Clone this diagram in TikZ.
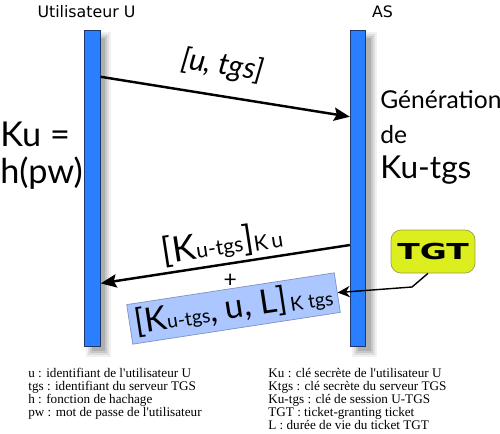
\documentclass[tikz,border=0pt]{standalone}
\usepackage{fontspec}
\setmainfont{Lato}
\newfontfamily\headfont{DejaVu Sans}
\newfontfamily\legendfont{Liberation Serif}
\definecolor{BarBlue}{RGB}{42,127,255}
\definecolor{BarEdge}{RGB}{30,55,110}
\definecolor{BoxBlue}{RGB}{172,198,255}
\definecolor{BoxEdge}{RGB}{125,145,195}
\definecolor{TgtYellow}{RGB}{221,238,30}
\definecolor{TgtEdge}{RGB}{150,160,70}
\definecolor{ShadeA}{RGB}{240,240,240}
\definecolor{ShadeB}{RGB}{222,222,222}
\definecolor{ShadeC}{RGB}{200,200,200}
\definecolor{ShadeD}{RGB}{175,175,175}
\usetikzlibrary{arrows.meta,calc}

\begin{document}
\begin{tikzpicture}[x=0.02cm,y=-0.02cm,
    lifeline/.style={draw=BarEdge,fill=BarBlue,line width=0.5pt,inner sep=0,
      minimum width=3.1mm,minimum height=63.2mm},
    msg/.style={line width=1.4pt,-{Stealth[length=9pt,width=7.5pt,inset=1.5pt]}},
    legend/.style={align=left,inner sep=0,anchor=north west,font=\legendfont\fontsize{7.5}{7.4}\selectfont}]
  \useasboundingbox (0,0) rectangle (500,433);

  % actors
  \node[font=\headfont\fontsize{9}{9}\selectfont] (uname) at (86.5,12) {Utilisateur U};
  \node[font=\headfont\fontsize{9}{9}\selectfont] (asname) at (382.5,12) {AS};
  % soft shadows of the lifelines
  \fill[ShadeA] (86,32) rectangle (111,357);
  \fill[ShadeB] (88,34) rectangle (109,355);
  \fill[ShadeC] (90,36) rectangle (107,353);
  \fill[ShadeD] (92,38) rectangle (105,351);
  \fill[ShadeA] (351.5,32) rectangle (376.5,357);
  \fill[ShadeB] (353.5,34) rectangle (374.5,355);
  \fill[ShadeC] (355.5,36) rectangle (372.5,353);
  \fill[ShadeD] (357.5,38) rectangle (370.5,351);
  \node[lifeline] (user) at (92.5,188) {};
  \node[lifeline] (as) at (358,188) {};

  % side notes
  \node[anchor=base west,inner sep=0,font=\fontsize{19.5}{19.5}\selectfont] (ku) at (0,146) {Ku =};
  \node[anchor=base west,inner sep=0,font=\fontsize{19.5}{19.5}\selectfont] (hpw) at (0,183) {h(pw)};
  \node[anchor=base west,inner sep=0,font=\fontsize{14}{14}\selectfont] (gen) at (380,108) {Génération};
  \node[anchor=base west,inner sep=0,font=\fontsize{14}{14}\selectfont] (de) at (380,143) {de};
  \node[anchor=base west,inner sep=0,font=\fontsize{18}{18}\selectfont] (kutgs) at (380,178) {Ku-tgs};

  % messages
  \draw[msg] ($(user.north east)!0.149!(user.south east)$) -- ($(as.north west)!0.275!(as.south west)$)
    node[pos=0.47,above=5pt,sloped,font=\itshape\fontsize{17}{17}\selectfont] {[u, tgs]};
  \draw[msg] ($(as.north west)!0.680!(as.south west)$) -- ($(user.north east)!0.801!(user.south east)$)
    node[midway,above=1pt,sloped,inner sep=1pt] {{\fontsize{20}{20}\selectfont[K}{\fontsize{12}{12}\selectfont u-tgs}{\fontsize{20}{20}\selectfont]}\raisebox{-1pt}{\fontsize{12}{12}\selectfont K\,u}}
    node[pos=0.48,below=2pt,font=\fontsize{13}{13}\selectfont] {+};

  % ticket
  \node[draw=BoxEdge,fill=BoxBlue,line width=0.4pt,rotate=8.7,minimum width=4.2cm,minimum height=0.8cm,inner sep=0] (ticket) at (233.5,308.5)
    {{\fontsize{19}{19}\selectfont[K}{\fontsize{11}{11}\selectfont u-tgs}{\fontsize{19}{19}\selectfont, u, L]}\,\raisebox{-1pt}{\fontsize{11}{11}\selectfont K tgs}};
  \node[draw=TgtEdge,fill=TgtYellow,line width=0.4pt,rounded corners=2mm,minimum width=1.68cm,minimum height=0.86cm,
    font=\headfont\bfseries\fontsize{12.5}{12.5}\selectfont] (tgt) at (433,251.5) {\scalebox{1.5}[1]{TGT}};
  \coordinate (kink) at (412,287);
  \draw[line width=0.8pt,-{Stealth[length=7pt,width=6.5pt]}] ($(tgt.south)+(-5,0)$) -- (kink) -- (ticket.east);

  % legend
  \node[legend] (defs) at (28,368) {u : identifiant de l'utilisateur U\\tgs : identifiant du serveur TGS\\h : fonction de hachage\\pw : mot de passe de l'utilisateur};
  \node[legend] (keys) at (268,368) {Ku : clé secrète de l'utilisateur U\\Ktgs : clé secrète du serveur TGS\\Ku-tgs : clé de session U-TGS\\TGT : ticket-granting ticket\\L : durée de vie du ticket TGT};
\end{tikzpicture}
\end{document}
